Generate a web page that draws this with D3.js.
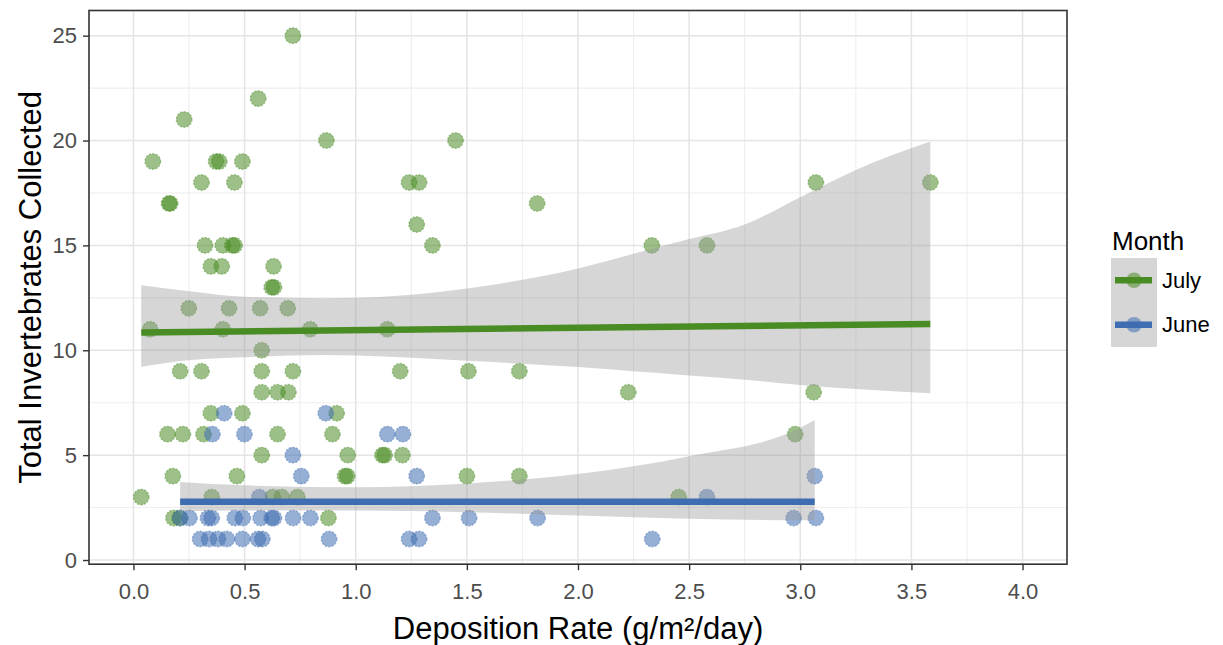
<!DOCTYPE html>
<html>
<head>
<meta charset="utf-8">
<script src="https://cdn.jsdelivr.net/npm/d3@7"></script>
<style>
  body { margin: 0; background: #fff; }
  text { font-family: "Liberation Sans", Arial, sans-serif; }
</style>
</head>
<body>
<script>
// values
const julyRate = [0.717, 0.561, 0.228, 0.868, 1.449, 0.087, 0.372, 0.386, 0.49,
  0.306, 0.454, 1.24, 1.285, 3.07, 3.585, 0.16, 0.165, 1.816, 1.274,
  0.322, 0.402, 0.445, 0.455, 1.345, 2.332, 2.58, 0.348, 0.397, 0.63,
  0.622, 0.632, 0.249, 0.43, 0.57, 0.694, 0.075, 0.402, 0.795, 1.142, 0.577,
  0.21, 0.306, 0.577, 0.717, 1.2, 1.507, 1.736, 0.577, 0.648, 0.697, 2.226, 3.06,
  0.348, 0.49, 0.914, 0.153, 0.222, 0.315, 0.648, 0.895, 2.977,
  0.577, 0.964, 1.12, 1.13, 1.21, 0.177, 0.465, 0.952, 0.962, 1.5, 1.736,
  0.035, 0.352, 0.627, 0.667, 0.737, 2.453, 0.18, 0.208, 0.877];
const julyCount = [25, 22, 21, 20, 20, 19, 19, 19, 19,
  18, 18, 18, 18, 18, 18, 17, 17, 17, 16,
  15, 15, 15, 15, 15, 15, 15, 14, 14, 14,
  13, 13, 12, 12, 12, 12, 11, 11, 11, 11, 10,
  9, 9, 9, 9, 9, 9, 9, 8, 8, 8, 8, 8,
  7, 7, 7, 6, 6, 6, 6, 6, 6,
  5, 5, 5, 5, 5, 4, 4, 4, 4, 4, 4,
  3, 3, 3, 3, 3, 3, 2, 2, 2];

const juneRate = [0.408, 0.865, 0.355, 0.499, 1.142, 1.212, 0.717,
  0.755, 1.274, 3.065, 0.566, 2.58,
  0.21, 0.252, 0.335, 0.352, 0.456, 0.492, 0.572, 0.622, 0.632, 0.718, 0.796,
  1.345, 1.51, 1.818, 2.97, 3.07,
  0.3, 0.34, 0.38, 0.42, 0.49, 0.56, 0.58, 0.88, 1.24, 1.285, 2.334];
const juneCount = [7, 7, 6, 6, 6, 6, 5,
  4, 4, 4, 3, 3,
  2, 2, 2, 2, 2, 2, 2, 2, 2, 2, 2,
  2, 2, 2, 2, 2,
  1, 1, 1, 1, 1, 1, 1, 1, 1, 1, 1];

// fitted lines and confidence bands
const julyFitX = [0.035, 3.585];
const julyFitY = [10.85, 11.25];
const julyBandX = [0.035, 0.26, 0.5, 0.86, 1.0, 1.5, 2.0, 2.25, 2.5, 2.75, 3.0, 3.25, 3.585];
const julyBandHi = [13.1, 12.8, 12.55, 12.48, 12.5, 12.95, 13.9, 14.6, 15.3, 16.0, 17.3, 18.6, 19.95];
const julyBandLo = [9.22, 9.54, 9.67, 9.78, 9.75, 9.5, 9.2, 9.0, 8.8, 8.6, 8.35, 8.15, 7.95];

const juneFitX = [0.21, 3.065];
const juneFitY = [2.78, 2.78];
const juneBandX = [0.21, 0.5, 1.0, 1.5, 2.0, 2.5, 3.0, 3.065];
const juneBandHi = [3.72, 3.56, 3.47, 3.65, 4.1, 4.95, 6.3, 6.68];
const juneBandLo = [2.33, 2.36, 2.36, 2.28, 2.12, 1.97, 1.9, 1.9];

const months = ["July", "June"];
const xTicks = [0, 0.5, 1, 1.5, 2, 2.5, 3, 3.5, 4];
const yTicks = [0, 5, 10, 15, 20, 25];

const colors = { July: "#4a8c24", June: "#3f6db1" };

const width = 1223, height = 645;
const panel = { left: 89, top: 10.5, right: 1067, bottom: 564.2 };

const svg = d3.select("body").append("svg")
  .attr("width", width)
  .attr("height", height)
  .style("background", "#fff");

const x = d3.scaleLinear().domain([-0.2, 4.2]).range([panel.left, panel.right]);
const y = d3.scaleLinear().domain([-0.2, 26.2]).range([panel.bottom, panel.top]);

// grid
const grid = svg.append("g");
const xMinor = d3.range(-0.25, 4.3, 0.5).filter(v => v > -0.2 && v < 4.2);
const yMinor = [2.5, 7.5, 12.5, 17.5, 22.5];
grid.selectAll(".xminor").data(xMinor).enter().append("line")
  .attr("x1", d => x(d)).attr("x2", d => x(d))
  .attr("y1", panel.top).attr("y2", panel.bottom)
  .attr("stroke", "#eeeeee").attr("stroke-width", 1.1);
grid.selectAll(".yminor").data(yMinor).enter().append("line")
  .attr("x1", panel.left).attr("x2", panel.right)
  .attr("y1", d => y(d)).attr("y2", d => y(d))
  .attr("stroke", "#eeeeee").attr("stroke-width", 1.1);
grid.selectAll(".xmajor").data(xTicks).enter().append("line")
  .attr("x1", d => x(d)).attr("x2", d => x(d))
  .attr("y1", panel.top).attr("y2", panel.bottom)
  .attr("stroke", "#e4e4e4").attr("stroke-width", 1.5);
grid.selectAll(".ymajor").data(yTicks).enter().append("line")
  .attr("x1", panel.left).attr("x2", panel.right)
  .attr("y1", d => y(d)).attr("y2", d => y(d))
  .attr("stroke", "#e4e4e4").attr("stroke-width", 1.5);

// points
const julyPts = julyRate.map((r, i) => ({ month: "July", x: r, y: julyCount[i] }));
const junePts = juneRate.map((r, i) => ({ month: "June", x: r, y: juneCount[i] }));

svg.append("g").selectAll("circle")
  .data(julyPts.concat(junePts))
  .enter().append("circle")
    .attr("cx", d => x(d.x))
    .attr("cy", d => y(d.y))
    .attr("r", 7.8)
    .attr("fill", d => colors[d.month])
    .attr("fill-opacity", 0.55)
    .attr("stroke", d => colors[d.month])
    .attr("stroke-opacity", 0.45)
    .attr("stroke-width", 1.3)
    .attr("stroke-dasharray", "2.2,1.4");

// smooths
const area = d3.area()
  .x(d => x(d[0])).y0(d => y(d[1])).y1(d => y(d[2]))
  .curve(d3.curveMonotoneX);
const line = d3.line().x(d => x(d[0])).y(d => y(d[1]));

function addSmooth(bx, hi, lo, fx, fy, color) {
  svg.append("path")
    .datum(bx.map((v, i) => [v, lo[i], hi[i]]))
    .attr("d", area)
    .attr("fill", "#999999")
    .attr("fill-opacity", 0.4);
  svg.append("path")
    .datum(fx.map((v, i) => [v, fy[i]]))
    .attr("d", line)
    .attr("fill", "none")
    .attr("stroke", color)
    .attr("stroke-width", 6.5);
}
addSmooth(julyBandX, julyBandHi, julyBandLo, julyFitX, julyFitY, colors.July);
addSmooth(juneBandX, juneBandHi, juneBandLo, juneFitX, juneFitY, colors.June);

// panel border
svg.append("rect")
  .attr("x", panel.left).attr("y", panel.top)
  .attr("width", panel.right - panel.left)
  .attr("height", panel.bottom - panel.top)
  .attr("fill", "none")
  .attr("stroke", "#333333")
  .attr("stroke-width", 1.6);

// axes
const xAxis = svg.append("g")
  .attr("transform", `translate(0,${panel.bottom})`)
  .call(d3.axisBottom(x).tickValues(xTicks).tickFormat(d3.format(".1f")).tickSize(6).tickPadding(13));
const yAxis = svg.append("g")
  .attr("transform", `translate(${panel.left},0)`)
  .call(d3.axisLeft(y).tickValues(yTicks).tickSize(6).tickPadding(6));

[xAxis, yAxis].forEach(a => {
  a.select(".domain").remove();
  a.selectAll(".tick line").attr("stroke", "#333333").attr("stroke-width", 1.4);
  a.selectAll(".tick text")
    .attr("fill", "#4d4d4d")
    .style("font-size", "22px")
    .style("font-family", "'Liberation Sans', Arial, sans-serif");
});

// axis titles
svg.append("text")
  .attr("x", (panel.left + panel.right) / 2)
  .attr("y", 639)
  .attr("text-anchor", "middle")
  .style("font-size", "31px")
  .attr("fill", "#000")
  .text("Deposition Rate (g/m²/day)");

svg.append("text")
  .attr("transform", `translate(41,${(panel.top + panel.bottom) / 2}) rotate(-90)`)
  .attr("text-anchor", "middle")
  .style("font-size", "31px")
  .attr("fill", "#000")
  .text("Total Invertebrates Collected");

// legend
const legend = svg.append("g");
legend.append("text")
  .attr("x", 1112).attr("y", 250)
  .style("font-size", "26px")
  .attr("fill", "#000")
  .text("Month");

const keyY = d3.scaleBand().domain(months).range([258, 347]);
legend.append("rect")
  .attr("x", 1111).attr("y", 258)
  .attr("width", 46).attr("height", 89)
  .attr("fill", "#999999").attr("fill-opacity", 0.4);

const keys = legend.selectAll(".key").data(months).enter().append("g")
  .attr("transform", d => `translate(1134,${keyY(d) + keyY.bandwidth() / 2})`);
keys.append("line")
  .attr("x1", -19).attr("x2", 18)
  .attr("stroke", d => colors[d]).attr("stroke-width", 6.5);
keys.append("circle")
  .attr("r", 7.8)
  .attr("fill", d => colors[d]).attr("fill-opacity", 0.55);
keys.append("text")
  .attr("x", 28).attr("y", 7.5)
  .style("font-size", "22px")
  .attr("fill", "#000")
  .text(d => d);
</script>
</body>
</html>
